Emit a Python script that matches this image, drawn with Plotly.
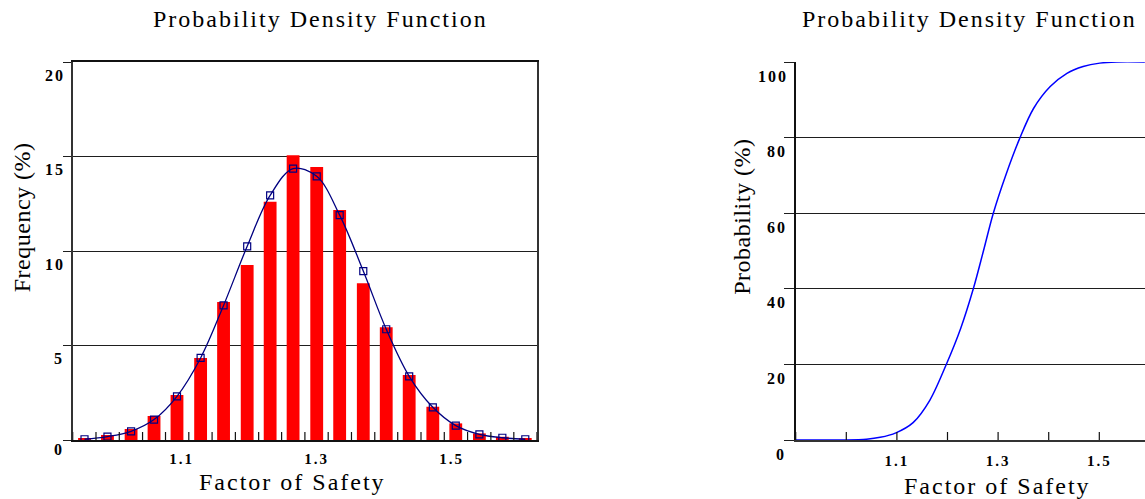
import plotly.graph_objects as go

# ---------------- data ----------------
bin_centers = [0.956, 0.990, 1.025, 1.059, 1.093, 1.128, 1.162, 1.197, 1.231, 1.265,
               1.300, 1.334, 1.369, 1.403, 1.437, 1.472, 1.506, 1.541, 1.575, 1.609]
freq_bars = [0.10, 0.27, 0.58, 1.27, 2.38, 4.34, 7.30, 9.26, 12.60, 15.06,
             14.44, 12.17, 8.29, 5.96, 3.44, 1.76, 0.88, 0.35, 0.17, 0.07]
freq_fit = [0.04, 0.18, 0.46, 1.08, 2.31, 4.34, 7.12, 10.25, 12.94, 14.36,
            13.95, 11.90, 8.94, 5.86, 3.37, 1.73, 0.76, 0.30, 0.12, 0.04]

cdf_x = [0.90, 1.00, 1.04, 1.067, 1.098, 1.132, 1.165, 1.198, 1.226, 1.251, 1.271,
         1.2905, 1.315, 1.3433, 1.370, 1.403, 1.436, 1.468, 1.501, 1.534, 1.59]
cdf_y = [0.0, 0.0, 0.2, 0.7, 1.9, 4.6, 10.5, 20.1, 29.5, 40.0, 50.0,
         60.0, 70.0, 80.0, 87.7, 93.5, 97.0, 98.8, 99.7, 100.0, 100.0]

left_xticks = [1.1, 1.3, 1.5]
left_yticks = [0, 5, 10, 15, 20]
right_xticks = [1.1, 1.3, 1.5]
right_xminor = [0.9, 1.0, 1.1, 1.2, 1.3, 1.4, 1.5]
right_yticks = [0, 20, 40, 60, 80, 100]

title_text = "Probability Density Function"
x_title = "Factor of Safety"
left_y_title = "Frequency (%)"
right_y_title = "Probability (%)"

# ---------------- geometry ----------------
W, H = 1145, 499
FONT = "Liberation Serif"
GRID = "#1e1e1e"

def px(x):
    return x / W

def py(y):
    return 1 - y / H

left_dom = [px(72.7), px(536.7)]
right_dom = [px(795.7), 1.0]
y_dom = [py(440), py(62)]

left_range = [0.9385, 1.6259]
right_range = [0.9, 1.5903]

fig = go.Figure()
fig.add_trace(go.Bar(x=bin_centers, y=freq_bars, width=0.019,
                     marker=dict(color="#FF0000", line=dict(width=0)),
                     xaxis="x", yaxis="y"))
fig.add_trace(go.Scatter(x=bin_centers, y=freq_fit, mode="lines+markers",
                         line=dict(color="#000080", width=1.3, shape="spline"),
                         marker=dict(symbol="square-open", size=7, color="#000080",
                                     line=dict(width=1.2, color="#000080")),
                         xaxis="x", yaxis="y"))
fig.add_trace(go.Scatter(x=cdf_x, y=cdf_y, mode="lines",
                         line=dict(color="#0000FF", width=1.5, shape="spline", smoothing=0.9),
                         xaxis="x2", yaxis="y2"))

tickfont_x = dict(family=FONT, size=15, color="#000", weight="bold")

fig.update_layout(
    width=W, height=H,
    margin=dict(l=0, r=0, t=0, b=0),
    paper_bgcolor="white", plot_bgcolor="white",
    showlegend=False,
    font=dict(family=FONT, color="#000"),
    xaxis=dict(domain=left_dom, range=left_range, tickvals=left_xticks,
               ticktext=[f"{v:.1f}" for v in left_xticks], ticks="",
               ticklabelstandoff=4, tickfont=tickfont_x,
               showline=True, linecolor="#111", linewidth=1.5, mirror=True,
               showgrid=False, zeroline=False, anchor="y"),
    yaxis=dict(domain=y_dom, range=[0, 20], tickvals=left_yticks,
               showticklabels=False, ticks="outside", ticklen=8, tickcolor=GRID,
               showgrid=True, gridcolor=GRID, gridwidth=1,
               showline=True, linecolor="#333", linewidth=1.5, mirror=True,
               zeroline=False, anchor="x"),
    xaxis2=dict(domain=right_dom, range=right_range, tickvals=right_xticks,
                ticktext=[f"{v:.1f}" for v in right_xticks], ticks="",
                ticklabelstandoff=6, tickfont=tickfont_x,
                showline=True, linecolor="#333", linewidth=1.5,
                showgrid=False, zeroline=False, anchor="y2"),
    yaxis2=dict(domain=y_dom, range=[0, 100], tickvals=right_yticks,
                showticklabels=False, ticks="outside", ticklen=10, tickcolor=GRID,
                showgrid=True, gridcolor=GRID, gridwidth=1,
                showline=True, linecolor="#111", linewidth=1.5,
                zeroline=False, anchor="x2"),
)

# crossing tick marks on the x axes (at bin edges on the left, every 0.1 on the right)
edges = [left_range[0]] + [(a + b) / 2 for a, b in zip(bin_centers[:-1], bin_centers[1:])] + [left_range[1]]
shapes = []
for e in edges:
    shapes.append(dict(type="line", xref="x", yref="y", ysizemode="pixel", yanchor=0,
                       x0=e, x1=e, y0=-7, y1=8, line=dict(color="#111", width=1.2)))
for e in right_xminor:
    shapes.append(dict(type="line", xref="x2", yref="y2", ysizemode="pixel", yanchor=0,
                       x0=e, x1=e, y0=-7, y1=8, line=dict(color="#111", width=1.2)))
fig.update_layout(shapes=shapes)

ann = []
tickfont_y = dict(family=FONT, size=16, color="#000", weight="bold")
for v in left_yticks:
    ann.append(dict(text=str(v), xref="x domain", x=0, yref="y", y=v,
                    xanchor="right", yanchor="middle", xshift=-8,
                    yshift=-9 if v == 0 else -13,
                    showarrow=False, font=tickfont_y))
for v in right_yticks:
    ann.append(dict(text=str(v), xref="x2 domain", x=0, yref="y2", y=v,
                    xanchor="right", yanchor="middle", xshift=-9, yshift=-14,
                    showarrow=False, font=tickfont_y))

big = dict(family=FONT, size=24, color="#000")
ann += [
    dict(text=title_text, xref="paper", yref="paper", x=px(320), y=py(19),
         xanchor="center", yanchor="middle", showarrow=False, font=big),
    dict(text=title_text, xref="paper", yref="paper", x=px(969), y=py(19),
         xanchor="center", yanchor="middle", showarrow=False, font=big),
    dict(text=x_title, xref="paper", yref="paper", x=px(292), y=py(482),
         xanchor="center", yanchor="middle", showarrow=False, font=big),
    dict(text=x_title, xref="paper", yref="paper", x=px(997), y=py(486),
         xanchor="center", yanchor="middle", showarrow=False, font=big),
    dict(text=left_y_title, xref="paper", yref="paper", x=px(22), y=py(218),
         xanchor="center", yanchor="middle", textangle=-90, showarrow=False, font=big),
    dict(text=right_y_title, xref="paper", yref="paper", x=px(742), y=py(217),
         xanchor="center", yanchor="middle", textangle=-90, showarrow=False, font=big),
]
fig.update_layout(annotations=ann)

post = """
document.body.style.margin = '0';
document.body.style.overflow = 'hidden';
document.querySelectorAll('svg text').forEach(function(t){
  t.style.letterSpacing = (t.textContent.indexOf('(%)') >= 0) ? '0.5px' : '2px';
});
"""
fig.write_html("out.html", post_script=post, config={"displayModeBar": False})
